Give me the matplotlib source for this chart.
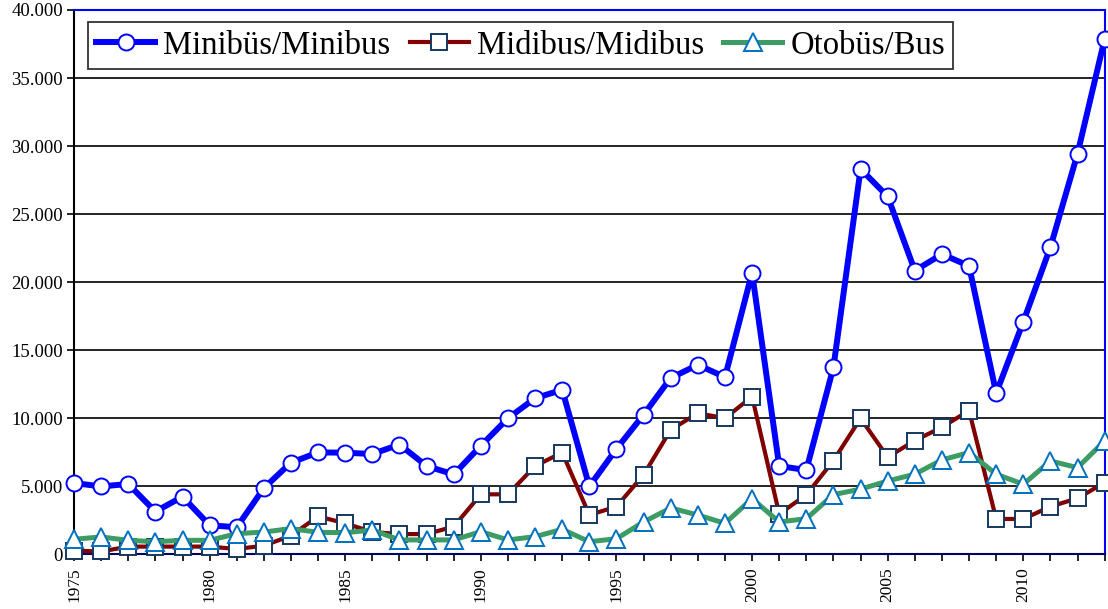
import matplotlib
matplotlib.use("Agg")
import matplotlib.pyplot as plt
from matplotlib.ticker import FuncFormatter, MultipleLocator

plt.rcParams['font.family'] = ['Liberation Serif', 'DejaVu Serif']

years = list(range(1975, 2014))

# Minibüs/Minibus
minibus = [5250, 5000, 5180, 3150, 4250, 2150, 2000, 4880, 6750, 7500,
           7480, 7380, 8080, 6500, 5880, 7990, 10010, 11480, 12100, 5000,
           7760, 10270, 12970, 13930, 13030, 20700, 6500, 6200, 13760, 28320,
           26300, 20850, 22060, 21200, 11850, 17100, 22580, 29450, 37880]
# Midibus/Midibus
midibus = [280, 220, 580, 580, 580, 580, 400, 650, 1380, 2800,
           2290, 1650, 1500, 1500, 2050, 4420, 4420, 6500, 7490, 2900,
           3520, 5850, 9160, 10380, 10010, 11600, 2980, 4380, 6900, 10000,
           7150, 8370, 9350, 10570, 2610, 2610, 3520, 4130, 5280]
# Otobüs/Bus
otobus = [1120, 1290, 1040, 940, 1040, 1040, 1530, 1650, 1900, 1630,
          1600, 1800, 1070, 1070, 1070, 1680, 1070, 1310, 1850, 940,
          1160, 2390, 3420, 2900, 2290, 4100, 2390, 2630, 4400, 4800,
          5400, 5900, 6950, 7490, 5900, 5160, 6870, 6380, 8350]

fig = plt.figure(figsize=(11.08, 6.09), dpi=100)
ax = fig.add_axes([0.0668, 0.0895, 0.9302, 0.8941])

ax.plot(years, minibus, color='#0000FF', lw=4.3, marker='o', ms=11.5,
        mfc='white', mec='#0000FF', mew=1.4, label='Minibüs/Minibus',
        clip_on=False, zorder=3)
ax.plot(years, midibus, color='#800000', lw=3.0, marker='s', ms=11.5,
        mfc='white', mec='#17375E', mew=1.4, label='Midibus/Midibus',
        clip_on=False, zorder=4)
ax.plot(years, otobus, color='#3D9C64', lw=3.6, marker='^', ms=12.5,
        mfc='white', mec='#0070C0', mew=1.4, label='Otobüs/Bus',
        clip_on=False, zorder=5)

ax.set_xlim(1975, 2013)
ax.set_ylim(0, 40000)

ax.yaxis.set_major_locator(MultipleLocator(5000))
ax.yaxis.set_major_formatter(FuncFormatter(lambda v, p: f"{int(v):,}".replace(",", ".")))
ax.grid(axis='y', color='black', lw=1.2, zorder=0)
ax.set_axisbelow(True)

ax.set_xticks(years)
ax.set_xticklabels([str(y) if y % 5 == 0 else '' for y in years], rotation=90)
ax.tick_params(axis='x', direction='out', length=5, width=1.2, labelsize=12.5, pad=4)
ax.tick_params(axis='y', direction='out', length=5, width=1.2, labelsize=13.5, pad=3)

ax.spines['left'].set_color('black')
ax.spines['left'].set_linewidth(1.5)
ax.spines['bottom'].set_color('#000066')
ax.spines['bottom'].set_linewidth(1.5)
ax.spines['top'].set_color('#0000FF')
ax.spines['top'].set_linewidth(1.5)
ax.spines['right'].set_color('#0000FF')
ax.spines['right'].set_linewidth(1.5)

leg = ax.legend(loc='upper left', bbox_to_anchor=(0.0136, 0.978), ncol=3,
                fontsize=23.5, frameon=True, fancybox=False, edgecolor='black',
                handlelength=1.8, handletextpad=0.25, columnspacing=0.6,
                borderpad=0.25, borderaxespad=0)
leg.get_frame().set_linewidth(1.3)

fig.savefig('out.png', dpi=100)
